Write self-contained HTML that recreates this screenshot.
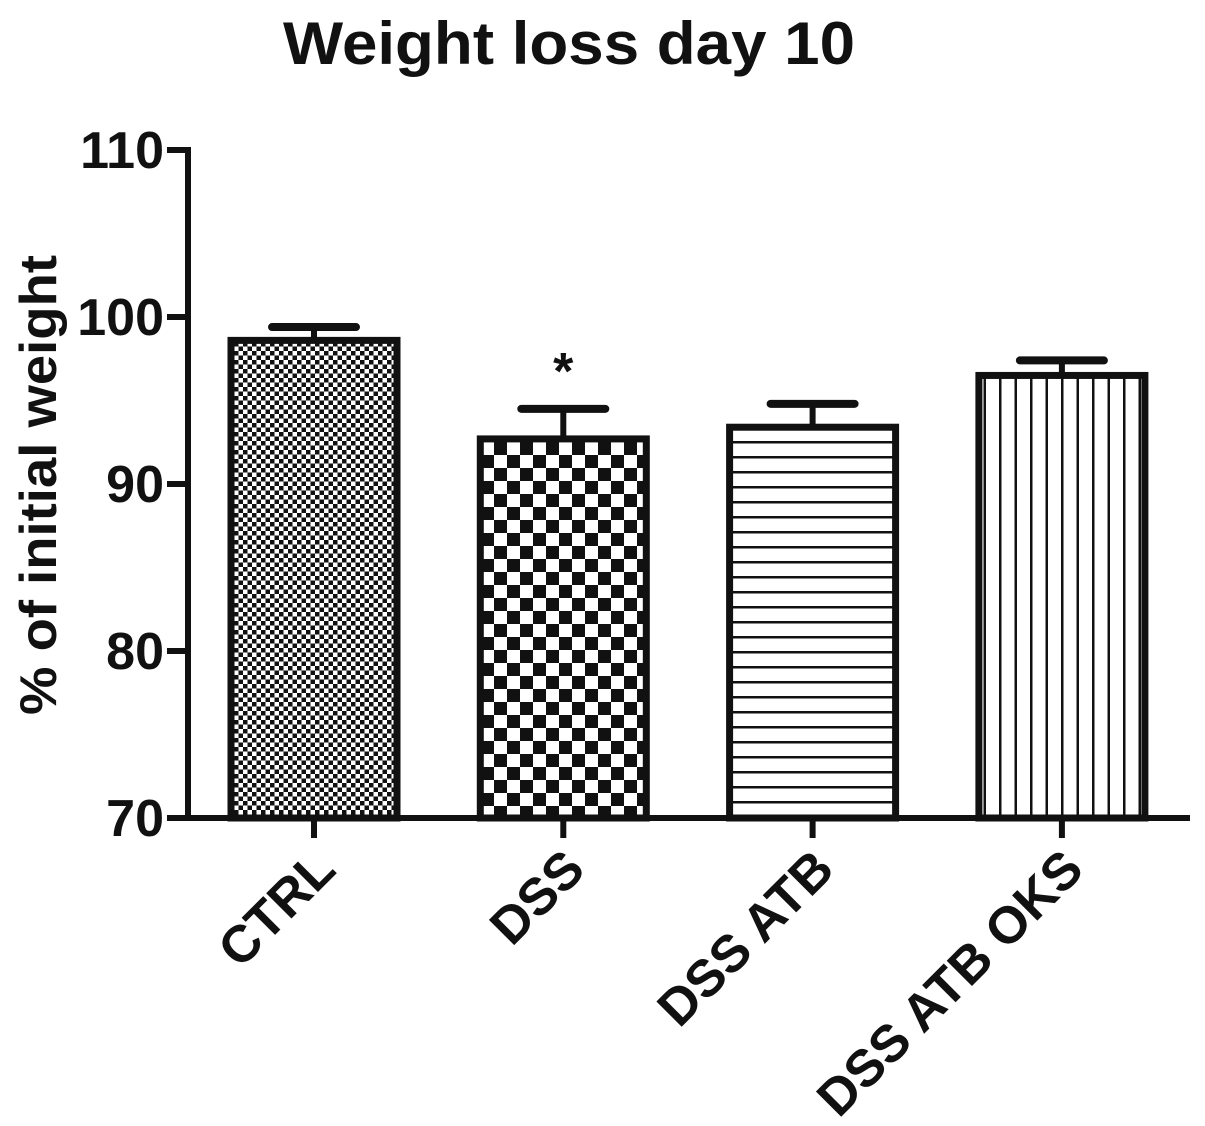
<!DOCTYPE html>
<html><head><meta charset="utf-8"><style>
body{margin:0;background:#fff;}
svg{display:block;font-family:"Liberation Sans",Arial,sans-serif;font-weight:bold;}
</style></head><body>
<svg id="chart" width="1205" height="1126" viewBox="0 0 1205 1126">
<defs>
<pattern id="pCtrl" width="9" height="9" patternUnits="userSpaceOnUse"><rect width="9" height="9" fill="#fff"/><rect width="4.5" height="4.5" fill="#111"/><rect x="4.5" y="4.5" width="4.5" height="4.5" fill="#111"/></pattern>
<pattern id="pDss" width="26" height="26" patternUnits="userSpaceOnUse"><rect width="26" height="26" fill="#fff"/><rect width="13" height="13" fill="#111"/><rect x="13" y="13" width="13" height="13" fill="#111"/></pattern>
<pattern id="pAtb" width="15" height="15" patternUnits="userSpaceOnUse"><rect width="15" height="15" fill="#fff"/><rect y="6" width="15" height="2.5" fill="#111"/></pattern>
<pattern id="pOks" width="15.5" height="15" patternUnits="userSpaceOnUse"><rect width="15.5" height="15" fill="#fff"/><rect x="7" width="2.5" height="15" fill="#111"/></pattern>
</defs>
<text x="569" y="64" font-size="60" text-anchor="middle" fill="#111" textLength="572" lengthAdjust="spacingAndGlyphs">Weight loss day 10</text>
<text transform="translate(56,485) rotate(-90)" font-size="52" text-anchor="middle" fill="#111" textLength="460" lengthAdjust="spacingAndGlyphs">% of initial weight</text>
<g id="axes"></g>
<g id="bars"></g>
</svg>
<script>
const categories=["CTRL","DSS","DSS ATB","DSS ATB OKS"];
const values=[98.6,92.7,93.4,96.5];
const errors=[0.8,1.8,1.4,0.9];
const yTicks=[70,80,90,100,110];
const patterns=["pCtrl","pDss","pAtb","pOks"];
const NS="http://www.w3.org/2000/svg";
const y0=818,y1=150,vmin=70,vmax=110;
function yScale(v){return y0-(v-vmin)/(vmax-vmin)*(y0-y1);}
const xStart=188,step=249.3;
function xCenter(i){return xStart+126+i*step;}
function mk(tag,attrs,parent){const e=document.createElementNS(NS,tag);for(const k in attrs)e.setAttribute(k,attrs[k]);parent.appendChild(e);return e;}
const axes=document.getElementById('axes'),bars=document.getElementById('bars');
let l=mk('line',{x1:188,y1:y1-3,x2:188,y2:y0+3,stroke:'#111','stroke-width':6},axes);


l=mk('line',{x1:167,y1:y0,x2:1190,y2:y0,stroke:'#111','stroke-width':6},axes);


yTicks.forEach(t=>{
 const y=yScale(t);
 const tk=mk('line',{x1:167,y1:y,x2:188,y2:y,stroke:'#111','stroke-width':6},axes);
 
 
 const tx=mk('text',{x:164,y:y+18,'font-size':52,'text-anchor':'end',fill:'#111'},axes);
 tx.textContent=t;
 
 
});
categories.forEach((c,i)=>{
 const cx=xCenter(i),w=166,top=yScale(values[i]),et=yScale(values[i]+errors[i]);
 const el=mk('line',{x1:cx,y1:et,x2:cx,y2:top,stroke:'#111','stroke-width':6},bars);
 
 
 const ec=mk('line',{x1:cx-42,y1:et,x2:cx+42,y2:et,stroke:'#111','stroke-width':8,'stroke-linecap':'round'},bars);
 
 
 const r=mk('rect',{x:cx-w/2,y:top,width:w,height:y0-top,fill:'url(#'+patterns[i]+')',stroke:'#111','stroke-width':7},bars);
 
 
 const tk=mk('line',{x1:cx,y1:y0,x2:cx,y2:y0+20,stroke:'#111','stroke-width':6},axes);
 
 
 const tx=mk('text',{x:0,y:0,'font-size':52,'text-anchor':'end',fill:'#111',transform:'translate('+(cx+24)+',872) rotate(-45)'},axes);
 tx.textContent=c;
 
 
});
const st=mk('text',{x:xCenter(1),y:yScale(values[1]+errors[1])-20,'font-size':52,'text-anchor':'middle',fill:'#111'},bars);
st.textContent='*';


</script>
</body></html>
